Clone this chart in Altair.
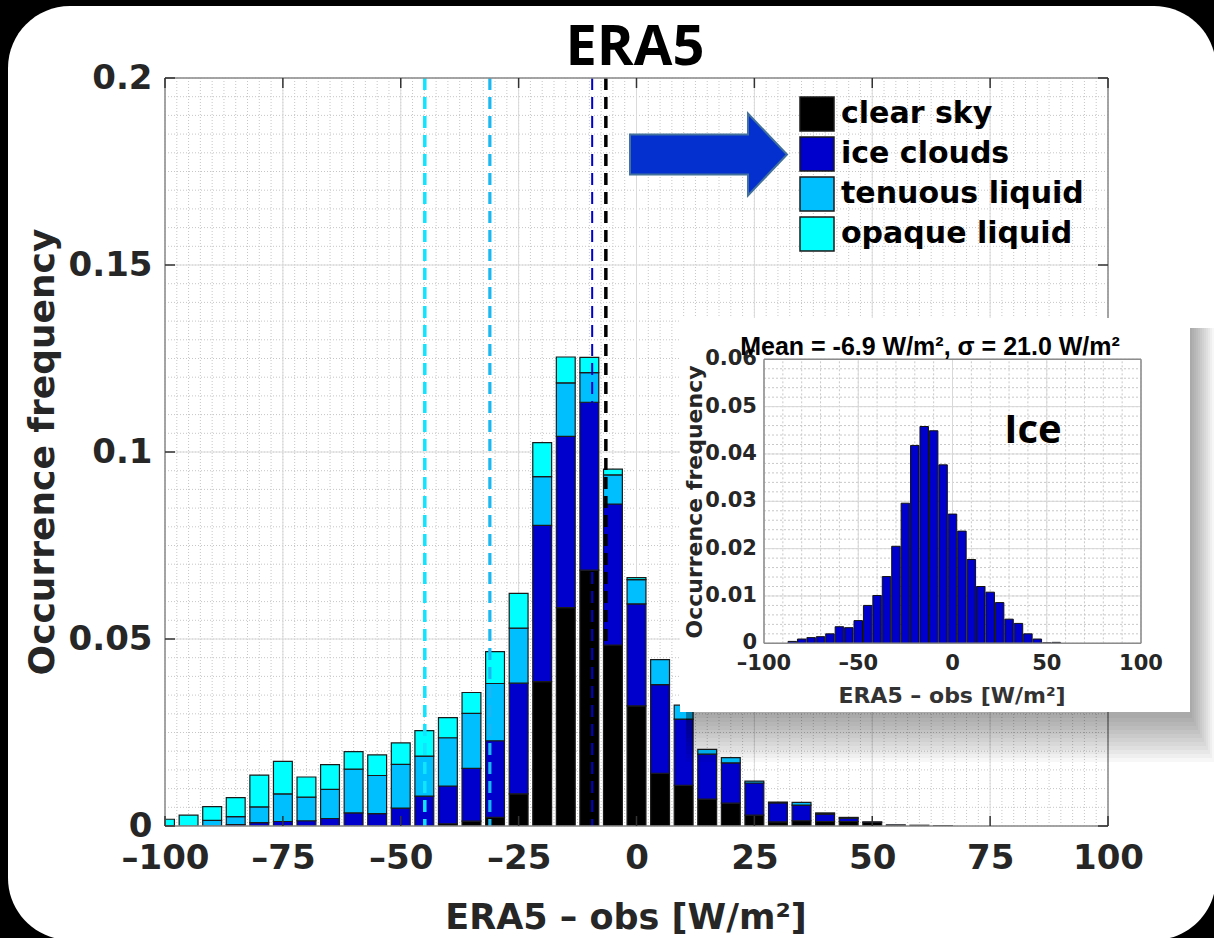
import altair as alt
import numpy as np
import pandas as pd

# ------------------------------------------------------------------ data
bin_centers = [-100, -95, -90, -85, -80, -75, -70, -65, -60, -55, -50, -45,
               -40, -35, -30, -25, -20, -15, -10, -5, 0, 5, 10, 15, 20, 25,
               30, 35, 40, 45, 50, 55, 60, 65]
clear_sky = [0, 0, 0, 0, 0, 0, 0, 0, 0, 0, 0, 0,
             0.0006, 0.0013, 0.0023, 0.0086, 0.0386, 0.0584, 0.0684, 0.0484, 0.0321, 0.0141, 0.0109, 0.0072, 0.0061, 0.0029,
             0.0011, 0.0014, 0.0012, 0.0012, 0.0010, 0.0001, 0.0002, 0.0001]
ice_clouds = [0, 0, 0, 0.0004, 0.0009, 0.0012, 0.0014, 0.0020, 0.0035, 0.0033, 0.0048, 0.0080,
              0.0101, 0.0141, 0.0205, 0.0296, 0.0418, 0.0458, 0.0449, 0.0377, 0.0273, 0.0237, 0.0177, 0.0120, 0.0108, 0.0086,
              0.0051, 0.0042, 0.0020, 0.0009, 0.0001, 0.0002, 0, 0]
tenuous_liquid = [0, 0, 0.0015, 0.0021, 0.0042, 0.0074, 0.0063, 0.0078, 0.0117, 0.0102, 0.0117, 0.0107,
                  0.0129, 0.0147, 0.0153, 0.0147, 0.0130, 0.0143, 0.0079, 0.0078, 0.0065, 0.0067, 0.0037, 0.0013, 0.0014, 0.0005,
                  0.0002, 0.0007, 0.0003, 0.0002, 0, 0, 0, 0]
opaque_liquid = [0.0018, 0.0029, 0.0037, 0.0051, 0.0085, 0.0087, 0.0054, 0.0066, 0.0047, 0.0055, 0.0057, 0.0068,
                 0.0054, 0.0056, 0.0085, 0.0093, 0.0091, 0.0069, 0.0041, 0.0015, 0.0005, 0, 0, 0, 0, 0,
                 0, 0, 0, 0, 0, 0, 0, 0]

categories = ["clear sky", "ice clouds", "tenuous liquid", "opaque liquid"]
cat_colors = ["#000000", "#0000CC", "#00BFFF", "#00FFFF"]

mean_values = [-44.9, -31.1, -9.4, -6.5]
mean_colors = ["#10E4FF", "#1AB8F2", "#0000CC", "#000000"]
mean_widths = [3.5, 3.2, 2.0, 3.5]

x_major = [-100, -75, -50, -25, 0, 25, 50, 75, 100]
y_major = [0, 0.05, 0.1, 0.15, 0.2]
x_minor = [float(v) for v in np.arange(-100, 100.01, 2.5)]
y_minor = [round(float(v), 4) for v in np.arange(0, 0.2001, 0.005)]

inset_x_major = [-100, -50, 0, 50, 100]
inset_y_major = [0, 0.01, 0.02, 0.03, 0.04, 0.05, 0.06]
inset_x_minor = [float(v) for v in np.arange(-100, 100.01, 10)]
inset_y_minor = [round(float(v), 4) for v in np.arange(0, 0.0601, 0.002)]

title_text = "ERA5"
xlabel_text = "ERA5 \u2013 obs [W/m\u00b2]"
ylabel_text = "Occurrence frequency"
inset_title_text = "Mean = -6.9 W/m\u00b2, \u03c3 = 21.0 W/m\u00b2"
inset_tag_text = "Ice"

FONT = "DejaVu Sans"
one = pd.DataFrame({"k": [0]})

# ------------------------------------------------------------------ tables
series = [clear_sky, ice_clouds, tenuous_liquid, opaque_liquid]
rows = []
for i, c in enumerate(bin_centers):
    base = 0.0
    for k, cat in enumerate(categories):
        v = series[k][i]
        if v > 0:
            rows.append({"x0": c - 2, "x1": c + 2, "y0": base, "y1": base + v, "cat": cat})
        base += v
bars_df = pd.DataFrame(rows)

inset_df = pd.DataFrame({"x0": [c - 2.25 for c in bin_centers],
                         "x1": [c + 2.25 for c in bin_centers],
                         "y0": 0.0, "y1": ice_clouds})
inset_df = inset_df[inset_df["y1"] > 0]

# ------------------------------------------------------------------ scales/axes
xs = alt.Scale(domain=[-100, 100], nice=False, zero=False)
ys = alt.Scale(domain=[0, 0.2], nice=False, zero=False)
xa = alt.Axis(values=x_major, grid=False, domain=False, ticks=False, tickSize=0,
              labelFont=FONT, labelFontSize=34, labelFontWeight="bold", labelColor="#262626",
              labelPadding=15, labelFlush=False, labelOverlap=False, title=None, zindex=1,
              labelExpr="replace(datum.label, '\u2212', '\u2013')")
ya = alt.Axis(values=y_major, format="~g", grid=False, domain=False, ticks=False, tickSize=0,
              labelFont=FONT, labelFontSize=34, labelFontWeight="bold", labelColor="#262626",
              labelPadding=13, labelFlush=False, labelOverlap=False, title=None, zindex=1)

W, H = 943, 748


def vrules(vals, **kw):
    return alt.Chart(pd.DataFrame({"v": vals})).mark_rule(**kw).encode(
        x=alt.X("v:Q", scale=xs, axis=xa))


def hrules(vals, **kw):
    return alt.Chart(pd.DataFrame({"v": vals})).mark_rule(**kw).encode(
        y=alt.Y("v:Q", scale=ys, axis=ya))


# ------------------------------------------------------------------ background
bg = alt.Chart(one).mark_rect(color="white", cornerRadius=62).encode(
    x=alt.value(-157), x2=alt.value(1051), y=alt.value(-72), y2=alt.value(862))

# ------------------------------------------------------------------ main plot
main_layers = [
    vrules(x_minor, color="#c6c6c6", strokeWidth=1, strokeDash=[1, 2]),
    hrules(y_minor, color="#c6c6c6", strokeWidth=1, strokeDash=[1, 2]),
    vrules(x_major, color="#dadada", strokeWidth=1),
    hrules(y_major, color="#dadada", strokeWidth=1),
    alt.Chart(bars_df).mark_rect(stroke="#1a1a1a", strokeWidth=1.2, clip=True).encode(
        x=alt.X("x0:Q", scale=xs, axis=xa), x2="x1:Q",
        y=alt.Y("y0:Q", scale=ys, axis=ya), y2="y1:Q",
        color=alt.Color("cat:N", scale=alt.Scale(domain=categories, range=cat_colors),
                        legend=alt.Legend(title=None, orient="none", legendX=634, legendY=18,
                                          direction="vertical", symbolType="square",
                                          symbolSize=1156, symbolStrokeColor="#1a1a1a",
                                          symbolStrokeWidth=1.5, symbolOpacity=1,
                                          labelFont=FONT, labelFontSize=30,
                                          labelFontWeight="bold", labelColor="black",
                                          rowPadding=0, labelOffset=6, padding=0,
                                          labelLimit=0, zindex=1)),
    ),
]
for v, c, w in zip(mean_values, mean_colors, mean_widths):
    main_layers.append(vrules([v], color=c, strokeWidth=w, strokeDash=[12, 7]))
# frame
main_layers.append(vrules([-100, 100], color="#8c8c8c", strokeWidth=1.5))
main_layers.append(hrules([0, 0.2], color="#8c8c8c", strokeWidth=1.5))
# inward ticks
xt = pd.DataFrame({"v": x_major})
yt = pd.DataFrame({"v": y_major})
main_layers.append(alt.Chart(xt).mark_rule(color="#333", strokeWidth=1.5).encode(
    x=alt.X("v:Q", scale=xs, axis=xa), y=alt.value(H), y2=alt.value(H - 10)))
main_layers.append(alt.Chart(xt).mark_rule(color="#333", strokeWidth=1.5).encode(
    x=alt.X("v:Q", scale=xs, axis=xa), y=alt.value(0), y2=alt.value(10)))
main_layers.append(alt.Chart(yt).mark_rule(color="#333", strokeWidth=1.5).encode(
    y=alt.Y("v:Q", scale=ys, axis=ya), x=alt.value(0), x2=alt.value(10)))
main_layers.append(alt.Chart(yt).mark_rule(color="#333", strokeWidth=1.5).encode(
    y=alt.Y("v:Q", scale=ys, axis=ya), x=alt.value(W), x2=alt.value(W - 10)))
main = alt.layer(*main_layers)

# ------------------------------------------------------------------ inset
xi = alt.Scale(domain=[-100, 100], range=[599, 976], nice=False, zero=False)
yi = alt.Scale(domain=[0, 0.06], range=[565.3, 281.3], nice=False, zero=False)

inset_layers = []
for i in range(12):
    inset_layers.append(alt.Chart(one).mark_rect(color="black", opacity=0.03).encode(
        x=alt.value(521), x2=alt.value(1027 + 2 * i),
        y=alt.value(250), y2=alt.value(640 + 4 * i)))
inset_layers.append(alt.Chart(one).mark_rect(color="white").encode(
    x=alt.value(515), x2=alt.value(1025), y=alt.value(240), y2=alt.value(634)))


def ivrules(vals, **kw):
    d = pd.DataFrame({"v": vals, "lo": 0.0, "hi": 0.06})
    return alt.Chart(d).mark_rule(**kw).encode(
        x=alt.X("v:Q", scale=xi, axis=None),
        y=alt.Y("lo:Q", scale=yi, axis=None), y2="hi:Q")


def ihrules(vals, **kw):
    d = pd.DataFrame({"v": vals, "lo": -100.0, "hi": 100.0})
    return alt.Chart(d).mark_rule(**kw).encode(
        y=alt.Y("v:Q", scale=yi, axis=None),
        x=alt.X("lo:Q", scale=xi, axis=None), x2="hi:Q")


inset_layers += [
    ivrules(inset_x_minor, color="#c8c8c8", strokeWidth=1, strokeDash=[2, 2]),
    ihrules(inset_y_minor, color="#c8c8c8", strokeWidth=1, strokeDash=[2, 2]),
    ivrules(inset_x_major, color="#d8d8d8", strokeWidth=1),
    ihrules(inset_y_major, color="#d8d8d8", strokeWidth=1),
    alt.Chart(inset_df).mark_rect(color="#0000CC", stroke="#111111", strokeWidth=1).encode(
        x=alt.X("x0:Q", scale=xi, axis=None), x2="x1:Q",
        y=alt.Y("y0:Q", scale=yi, axis=None), y2="y1:Q"),
    ivrules([-100, 100], color="#8c8c8c", strokeWidth=1.5),
    ihrules([0, 0.06], color="#8c8c8c", strokeWidth=1.5),
]
ixl = pd.DataFrame({"v": inset_x_major,
                    "lab": [f"{v:g}".replace("-", "\u2013") for v in inset_x_major]})
iyl = pd.DataFrame({"v": inset_y_major, "lab": [f"{v:g}" for v in inset_y_major]})
inset_layers.append(alt.Chart(ixl).mark_text(font=FONT, fontSize=21, fontWeight="bold",
                                             color="#262626", baseline="alphabetic").encode(
    x=alt.X("v:Q", scale=xi, axis=None), y=alt.value(592), text="lab:N"))
inset_layers.append(alt.Chart(iyl).mark_text(font=FONT, fontSize=21, fontWeight="bold",
                                             color="#262626", align="right",
                                             baseline="middle").encode(
    y=alt.Y("v:Q", scale=yi, axis=None), x=alt.value(592), text="lab:N"))
inset_layers.append(alt.Chart(one).mark_text(text=inset_title_text, font="Liberation Sans",
                                             fontSize=25, fontWeight="bold", color="black",
                                             baseline="alphabetic").encode(
    x=alt.value(765), y=alt.value(277)))
inset_layers.append(alt.Chart(one).mark_text(text=inset_tag_text, font="Open Sans",
                                             fontSize=40, fontWeight="bold", color="black",
                                             baseline="alphabetic").encode(
    x=alt.value(868), y=alt.value(365)))
inset_layers.append(alt.Chart(one).mark_text(text=ylabel_text, font=FONT, fontSize=22,
                                             fontWeight="bold", color="#262626", angle=270,
                                             baseline="middle").encode(
    x=alt.value(530), y=alt.value(424)))
inset_layers.append(alt.Chart(one).mark_text(text=xlabel_text, font=FONT, fontSize=22,
                                             fontWeight="bold", color="#333333",
                                             baseline="alphabetic").encode(
    x=alt.value(787), y=alt.value(625)))
inset = alt.layer(*inset_layers)

# ------------------------------------------------------------------ annotations
arrow_path = ("M -1 -0.255 L 0.503 -0.255 L 0.503 -0.522 L 1 0 "
              "L 0.503 0.522 L 0.503 0.255 L -1 0.255 Z")
arrow = alt.Chart(one).mark_point(shape=arrow_path, size=24649, filled=True, opacity=1,
                                  fill="#0530D0", stroke="#41719C", strokeWidth=2).encode(
    x=alt.value(543.5), y=alt.value(76.5))

era5 = alt.Chart(one).mark_text(text=title_text, font="Open Sans", fontSize=56,
                                fontWeight="bold", color="black",
                                baseline="alphabetic").encode(
    x=alt.value(470), y=alt.value(-13))
ytitle = alt.Chart(one).mark_text(text=ylabel_text, font=FONT, fontSize=36, fontWeight="bold",
                                  color="#262626", angle=270, baseline="middle").encode(
    x=alt.value(-122), y=alt.value(374))
xtitle = alt.Chart(one).mark_text(text=xlabel_text, font=FONT, fontSize=35, fontWeight="bold",
                                  color="#262626", baseline="alphabetic").encode(
    x=alt.value(461), y=alt.value(851))

chart = alt.layer(bg, main, inset, arrow, era5, ytitle, xtitle).resolve_scale(
    x="independent", y="independent"
).properties(
    width=W, height=H, background="black",
    padding={"left": 165, "top": 78, "right": 106, "bottom": 112},
    autosize=alt.AutoSizeParams(type="none"),
).configure_view(stroke=None)

chart.save("out.html", embed_options={"renderer": "svg", "actions": False})
